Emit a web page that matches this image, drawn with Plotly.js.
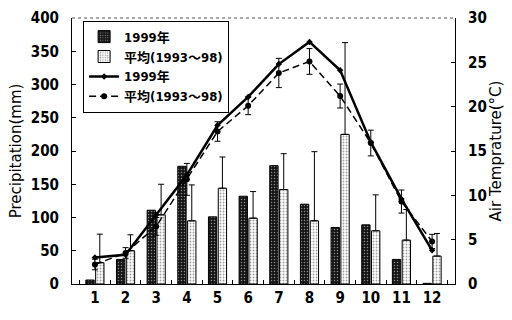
<!DOCTYPE html>
<html><head><meta charset="utf-8">
<script src="https://cdn.plot.ly/plotly-3.0.1.min.js"></script>
<style>html,body{margin:0;padding:0;background:#fff}#c{width:512px;height:320px}</style>
</head><body><div id="c"></div>
<script>
const months = ['1','2','3','4','5','6','7','8','9','10','11','12'];
const precip1999 = [6, 37, 111, 177, 101, 132, 178, 120, 85, 89, 37, 1];
const precipAvg = [32, 50, 104, 95, 144, 99, 142, 95, 225, 80, 66, 42];
const precipAvgSD = [43, 24, 46, 54, 47, 40, 54, 104, 138, 54, 46, 34];
const temp1999 = [3.0, 3.3, 7.8, 12.3, 17.9, 21.1, 24.8, 27.3, 24.1, 16.0, 9.6, 3.8];
const tempAvg = [2.2, 3.5, 6.5, 11.8, 17.2, 20.1, 23.8, 25.1, 21.2, 15.9, 9.3, 4.8];
const tempAvgSD = [0.6, 0.6, 1.0, 1.8, 1.1, 1.0, 1.65, 1.45, 1.35, 1.45, 1.3, 0.8];
const legendNames = ['1999年', '平均(1993～98)'];

const COND = 'DejaVu Sans Condensed, Liberation Sans, Noto Sans CJK JP, sans-serif';
const REG = 'DejaVu Sans, Liberation Sans, Noto Sans CJK JP, sans-serif';

const traces = [
  {type:'bar', x:months, y:precip1999, name:legendNames[0],
   marker:{color:'#222', line:{color:'#000', width:1},
     pattern:{shape:'.', bgcolor:'#151515', fgcolor:'#8a8a8a', size:3, solidity:0.2}}},
  {type:'bar', x:months, y:precipAvg, name:legendNames[1],
   marker:{color:'#fff', line:{color:'#000', width:1},
     pattern:{shape:'.', bgcolor:'#ffffff', fgcolor:'#a0a0a0', size:3, solidity:0.3}},
   error_y:{type:'data', symmetric:false, array:precipAvgSD, arrayminus:precipAvgSD.map(()=>0),
     color:'#000', thickness:1, width:3}},
  {type:'scatter', mode:'lines+markers', x:months, y:temp1999, yaxis:'y2', name:legendNames[0],
   line:{color:'#000', width:2.5}, marker:{symbol:'diamond', size:5, color:'#000'}},
  {type:'scatter', mode:'lines+markers', x:months, y:tempAvg, yaxis:'y2', name:legendNames[1],
   line:{color:'#000', width:1.5, dash:'7px,4px'}, marker:{symbol:'circle', size:6, color:'#000'},
   error_y:{type:'data', array:tempAvgSD, color:'#000', thickness:1, width:3}}
];

const layout = {
  width:512, height:320,
  margin:{l:72, r:57, t:18, b:36},
  paper_bgcolor:'#fff', plot_bgcolor:'#fff',
  font:{family:COND, color:'#000'},
  barmode:'group', bargap:0.36, bargroupgap:0.15,
  showlegend:true,
  legend:{x:0.029, y:0.99, xanchor:'left', yanchor:'top', bgcolor:'#fff',
    bordercolor:'#000', borderwidth:1, itemwidth:30, tracegroupgap:0,
    font:{family:COND, size:13, weight:'bold'}},
  xaxis:{type:'category', showline:true, linecolor:'#000', linewidth:1,
    ticks:'inside', ticklen:4, tickcolor:'#000', tickson:'boundaries',
    showgrid:false, zeroline:false, tickfont:{size:15, weight:'bold'}},
  yaxis:{range:[0,400], dtick:50, showline:true, linecolor:'#000', linewidth:1,
    ticks:'inside', ticklen:4, tickcolor:'#000', showgrid:false, zeroline:false,
    ticklabelstandoff:9,
    tickfont:{size:15, weight:'bold'},
    title:{text:'Precipitation(mm)', font:{family:REG, size:15}, standoff:5}},
  yaxis2:{range:[0,30], dtick:5, overlaying:'y', side:'right', showline:true,
    linecolor:'#000', linewidth:1, ticks:'inside', ticklen:4, tickcolor:'#000',
    showgrid:false, zeroline:false, ticklabelstandoff:9,
    tickfont:{size:15, weight:'bold'},
    title:{text:'Air Temprature(°C)', font:{family:REG, size:15}, standoff:4}},
  shapes:[{type:'line', xref:'paper', yref:'paper', x0:0, x1:1, y0:1, y1:1,
    line:{color:'#555', width:1, dash:'dot'}}]
};

Plotly.newPlot('c', traces, layout, {staticPlot:true, displayModeBar:false});
</script></body></html>
